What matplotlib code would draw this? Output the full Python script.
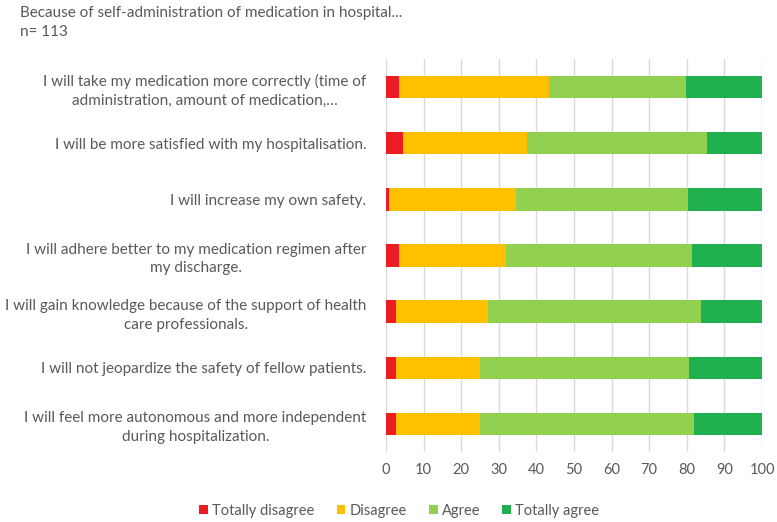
import matplotlib
matplotlib.use('Agg')
import matplotlib.pyplot as plt
import numpy as np

plt.rcParams['font.family'] = ['Lato', 'DejaVu Sans']

statements = [
    "I will take my medication more correctly (time of\nadministration, amount of medication,…",
    "I will be more satisfied with my hospitalisation.",
    "I will increase my own safety.",
    "I will adhere better to my medication regimen after\nmy discharge.",
    "I will gain knowledge because of the support of health\ncare professionals.",
    "I will not jeopardize the safety of fellow patients.",
    "I will feel more autonomous and more independent\nduring hospitalization.",
]
totally_disagree = [3.5, 4.4, 0.9, 3.5, 2.7, 2.7, 2.7]
disagree = [39.8, 33.2, 33.6, 28.5, 24.4, 22.2, 22.4]
agree = [36.4, 47.7, 45.8, 49.3, 56.6, 55.6, 56.9]
totally_agree = [20.3, 14.7, 19.7, 18.7, 16.3, 19.5, 18.0]

series = [
    ('Totally disagree', totally_disagree, '#ED1C24'),
    ('Disagree', disagree, '#FFC000'),
    ('Agree', agree, '#92D050'),
    ('Totally agree', totally_agree, '#21B050'),
]

txt = '#595959'
fig = plt.figure(figsize=(7.77, 5.22), dpi=100)
ax = fig.add_axes([0.4968, 0.134, 0.4839, 0.753])

y = np.arange(len(statements))
left = np.zeros(len(statements))
for name, vals, col in series:
    ax.barh(y, vals, left=left, height=0.4, color=col, label=name, zorder=3)
    left += np.array(vals)

ax.set_xlim(0, 100)
ax.set_ylim(len(statements) - 0.5, -0.5)
ax.set_xticks(range(0, 101, 10))
ax.grid(axis='x', color='#D9D9D9', lw=1, zorder=0)
ax.set_yticks(y)
ax.set_yticklabels(statements, multialignment='center', linespacing=1.4)
ax.tick_params(axis='y', length=0, pad=14, labelsize=11, labelcolor=txt)
ax.tick_params(axis='x', length=0, pad=8, labelsize=10.5, labelcolor=txt)
for s in ax.spines.values():
    s.set_visible(False)

fig.text(0.026, 0.988, "Because of self-administration of medication in hospital...",
         color=txt, fontsize=11, va='top', ha='left')
fig.text(0.026, 0.952, "n= 113", color=txt, fontsize=11, va='top', ha='left')

leg = fig.legend(loc='center', bbox_to_anchor=(0.514, 0.022), ncol=4, frameon=False,
                 fontsize=10.5, handlelength=0.6, handleheight=0.6, handletextpad=0.3,
                 columnspacing=1.5)
for t in leg.get_texts():
    t.set_color(txt)

fig.savefig('out.png', dpi=100, facecolor='white')
